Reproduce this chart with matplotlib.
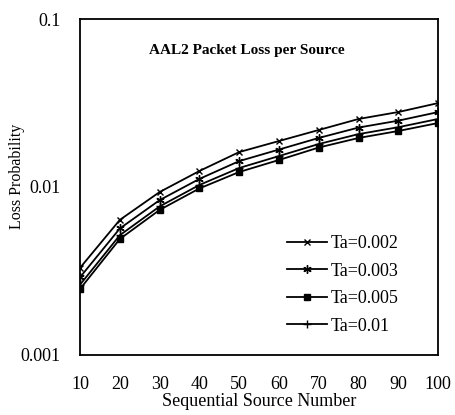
import numpy as np
import matplotlib
matplotlib.use("Agg")
import matplotlib.pyplot as plt

plt.rcParams['font.family'] = ['Liberation Serif', 'DejaVu Serif']

sources = [10, 20, 30, 40, 50, 60, 70, 80, 90, 100]
ta_002 = [0.00330, 0.00637, 0.00933, 0.01245, 0.01614, 0.01878, 0.02185, 0.02541, 0.02795, 0.0316]
ta_003 = [0.00290, 0.00566, 0.00835, 0.01117, 0.01426, 0.01671, 0.01959, 0.02259, 0.02483, 0.02793]
ta_005 = [0.00247, 0.00490, 0.00730, 0.00980, 0.01228, 0.01448, 0.01718, 0.01958, 0.02155, 0.02404]
ta_01 = [0.00262, 0.00516, 0.00766, 0.01028, 0.01297, 0.01528, 0.01803, 0.02065, 0.02270, 0.02541]

fig = plt.figure(figsize=(4.55, 4.15), dpi=100)
ax = fig.add_axes([0.176, 0.145, 0.787, 0.809])

ax.plot(sources, ta_002, color="black", lw=1.3, marker="x", ms=5, mew=1.0, label="Ta=0.002")
ax.plot(sources, ta_003, color="black", lw=1.3, marker=(6, 2, 0), ms=6, mew=1.0, label="Ta=0.003")
ax.plot(sources, ta_005, color="black", lw=1.3, marker="s", ms=4, label="Ta=0.005")
ax.plot(sources, ta_01, color="black", lw=1.3, marker="+", ms=6, mew=1.0, label="Ta=0.01")

ax.set_yscale("log")
ax.set_ylim(0.001, 0.1)
ax.set_xlim(10, 100)
ax.set_xticks(sources)
ax.set_xticklabels([str(s) for s in sources])
ax.set_yticks([0.001, 0.01, 0.1])
ax.set_yticklabels(["0.001", "0.01", "0.1"])
ax.yaxis.set_minor_locator(matplotlib.ticker.NullLocator())
ax.tick_params(axis="both", length=0, labelsize=13)
ax.tick_params(axis="x", pad=15)
ax.tick_params(axis="y", pad=14)

for s in ax.spines.values():
    s.set_linewidth(1.3)

ax.set_xlabel("Sequential Source Number", fontsize=13)
ax.xaxis.set_label_coords(0.5, -0.115)
ax.set_ylabel("Loss Probability", fontsize=11.5)
ax.yaxis.set_label_coords(-0.154, 0.533)

ax.text(0.467, 0.905, "AAL2 Packet Loss per Source", transform=ax.transAxes,
        ha="center", va="center", fontsize=11, fontweight="bold")

ax.legend(loc="lower right", bbox_to_anchor=(0.935, 0.012), frameon=False,
          fontsize=13, handlelength=2.2, handletextpad=0.2, labelspacing=0.58)

fig.savefig("out.png", dpi=100)
